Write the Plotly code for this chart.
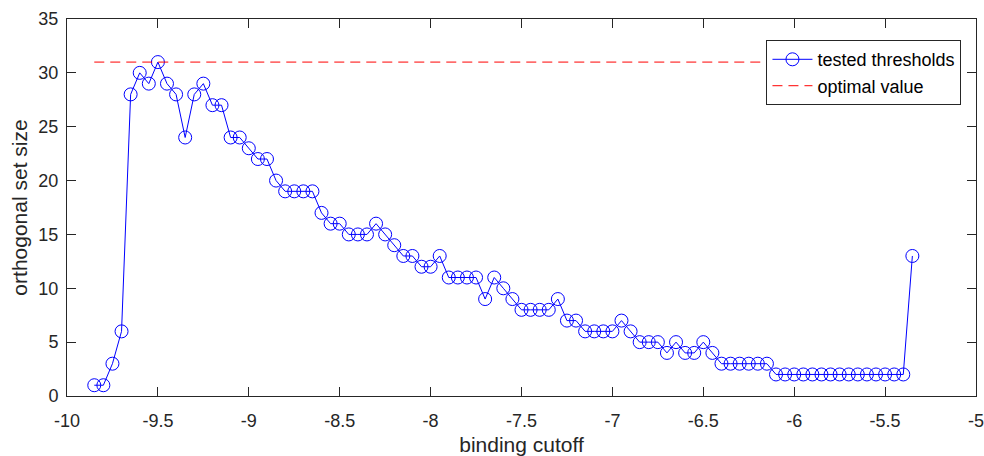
import plotly.graph_objects as go

cutoffs = [round(-9.85 + 0.05 * i, 2) for i in range(91)]
set_sizes = [1, 1, 3, 6, 28, 30, 29, 31, 29, 28,
             24, 28, 29, 27, 27, 24, 24, 23, 22, 22,
             20, 19, 19, 19, 19, 17, 16, 16, 15, 15,
             15, 16, 15, 14, 13, 13, 12, 12, 13, 11,
             11, 11, 11, 9, 11, 10, 9, 8, 8, 8,
             8, 9, 7, 7, 6, 6, 6, 6, 7, 6,
             5, 5, 5, 4, 5, 4, 4, 5, 4, 3,
             3, 3, 3, 3, 3, 2, 2, 2, 2, 2,
             2, 2, 2, 2, 2, 2, 2, 2, 2, 2,
             13]
optimal_value = 31
opt_x = [cutoffs[0], cutoffs[-1]]
opt_y = [optimal_value, optimal_value]

x_ticks = [-10, -9.5, -9, -8.5, -8, -7.5, -7, -6.5, -6, -5.5, -5]
x_ticklabels = ["-10", "-9.5", "-9", "-8.5", "-8", "-7.5", "-7", "-6.5", "-6", "-5.5", "-5"]
y_ticks = [0, 5, 10, 15, 20, 25, 30, 35]

font_family = "Liberation Sans, Arial, sans-serif"
axis_color = "#262626"

fig = go.Figure()
fig.add_trace(go.Scatter(
    x=cutoffs, y=set_sizes, mode="lines+markers", name="tested thresholds",
    line=dict(color="rgb(0,0,255)", width=1),
    marker=dict(symbol="circle-open", size=13, color="rgb(0,0,255)", line=dict(width=1)),
))
fig.add_trace(go.Scatter(
    x=opt_x, y=opt_y, mode="lines", name="optimal value",
    line=dict(color="rgb(255,0,0)", width=1, dash="10px,6px"),
))

axis_common = dict(
    showline=True, linecolor=axis_color, linewidth=1, mirror="ticks",
    ticks="inside", ticklen=9, tickcolor=axis_color, tickwidth=1,
    showgrid=False, zeroline=False, automargin=False, ticklabeloverflow="allow",
    tickfont=dict(family=font_family, size=18, color=axis_color),
)

fig.update_layout(
    width=984, height=456,
    margin=dict(l=67, r=8, t=19, b=60),
    paper_bgcolor="white", plot_bgcolor="white",
    font=dict(family=font_family, color=axis_color),
    hovermode=False,
    xaxis=dict(range=[-10, -5], tickvals=x_ticks, ticktext=x_ticklabels,
               ticklabelstandoff=8,
               title=dict(text="binding cutoff", standoff=11,
                          font=dict(family=font_family, size=21, color=axis_color)),
               **axis_common),
    yaxis=dict(range=[0, 35], tickvals=y_ticks, ticklabelstandoff=4,
               title=dict(text="orthogonal set size", standoff=5,
                          font=dict(family=font_family, size=21, color=axis_color)),
               **axis_common),
    legend=dict(x=0.984, y=0.944, xanchor="right", yanchor="top",
                bgcolor="white", bordercolor=axis_color, borderwidth=1,
                font=dict(family=font_family, size=18, color="black"),
                itemwidth=40, tracegroupgap=0),
    showlegend=True,
)

fig.write_html(
    "out.html",
    config={"displayModeBar": False},
    post_script="document.body.style.margin='0px';document.body.style.overflow='hidden';",
)
